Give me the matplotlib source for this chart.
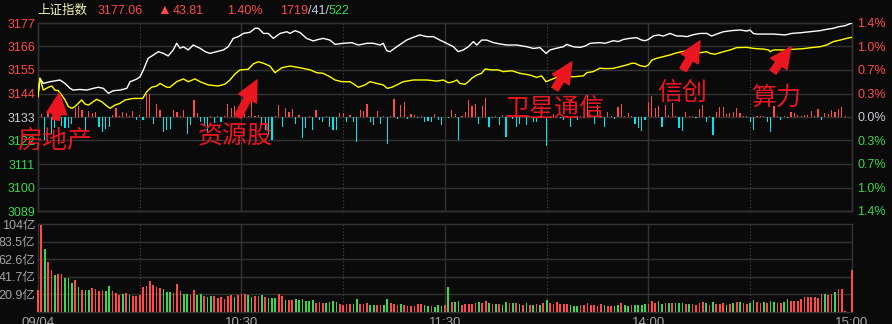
import matplotlib
matplotlib.use("Agg")
import matplotlib.pyplot as plt
import numpy as np

# ---------------- data ----------------
PREV_CLOSE = 3133.25
LAST = 3177.06
CHANGE = 43.81
PCT = "1.40%"
ADV, FLAT, DEC = "1719", "41", "522"

WHITE_T = [0, 0.6, 1.6, 3.6, 6.5, 8, 9.5, 10.4, 12.4, 14.4,
           16.3, 17.8, 19.3, 20.8, 22.2, 24.2, 26.2, 27.2, 29.1, 30.1,
           31.1, 32.5, 34, 35.5, 37, 38.4, 39.9, 40.9, 41.9, 42.9,
           44.3, 45.8, 46.8, 47.8, 49.3, 50.7, 52.7, 54.7, 56.1, 57.6,
           59.1, 60.6, 62.5, 64, 65, 66.5, 67.9, 69.4, 71.4, 73.4,
           74.3, 75.8, 77.3, 79.2, 81.2, 82.7, 84.1, 86.1, 87.6, 90,
           92.5, 94.5, 96.9, 98.9, 100.9, 101.8, 102.8, 103.8, 105.8, 107.3,
           108.7, 110.7, 112.6, 114.6, 116.6, 118.5, 120.5, 122.5, 123.9, 125.4,
           126.9, 128.4, 129.4, 130.8, 132.3, 134.3, 136.2, 138.2, 141.2, 144.1,
           146.1, 148, 149.8, 151, 152.9, 154.9, 155.9, 157.8, 159.8, 161.3,
           162.8, 165.7, 167.2, 169.6, 171.1, 172.6, 174.5, 176.5, 178, 179,
           180, 181.4, 182.9, 184.4, 186.4, 188.3, 189.8, 191.3, 193.2, 195.2,
           197.2, 198.6, 200.1, 202.1, 204.5, 207, 209, 209.9, 210.9, 211.9,
           214.9, 216.8, 220.3, 222.2, 224.7, 227.6, 230.6, 232.5, 234.5, 236,
           237.9, 240]
WHITE_V = [3142.7, 3151.3, 3148.9, 3149.7, 3150.5, 3148.9, 3146.6, 3145.8, 3146.1, 3145.8,
           3146.6, 3147.1, 3146.6, 3144.3, 3145.5, 3145.8, 3146.6, 3149.7, 3150.9, 3152.0,
           3155.2, 3160.6, 3162.1, 3163.7, 3162.9, 3161.7, 3164.5, 3167.6, 3165.3, 3166.0,
           3164.5, 3166.8, 3166.0, 3165.3, 3163.7, 3162.9, 3163.7, 3164.5, 3166.0, 3169.9,
           3170.7, 3172.2, 3172.7, 3174.6, 3174.6, 3172.2, 3172.2, 3169.9, 3172.2, 3173.0,
           3172.2, 3173.5, 3172.6, 3169.9, 3168.7, 3169.4, 3169.9, 3169.1, 3167.1, 3167.6,
           3167.9, 3166.8, 3167.6, 3167.6, 3166.8, 3167.6, 3164.2, 3163.7, 3166.0, 3167.6,
           3169.1, 3170.4, 3171.5, 3170.7, 3170.7, 3169.1, 3167.6, 3166.0, 3163.7, 3164.5,
           3166.0, 3168.4, 3166.8, 3169.1, 3169.1, 3167.9, 3167.3, 3166.8, 3166.8, 3166.0,
           3165.2, 3165.6, 3162.9, 3164.5, 3165.3, 3166.0, 3167.1, 3166.0, 3165.7, 3166.3,
           3167.6, 3167.9, 3167.6, 3168.8, 3168.4, 3169.4, 3169.9, 3170.2, 3169.1, 3168.8,
           3169.4, 3171.0, 3171.5, 3171.0, 3172.2, 3171.0, 3171.0, 3170.7, 3171.6, 3172.2,
           3172.2, 3171.0, 3171.9, 3173.0, 3173.5, 3173.8, 3173.3, 3173.8, 3172.2, 3171.9,
           3171.9, 3171.9, 3171.5, 3172.2, 3172.5, 3173.0, 3173.5, 3174.1, 3174.6, 3175.3,
           3175.8, 3177.06]

YEL_T = [0, 0.6, 1.6, 3.1, 4.1, 5, 6, 7, 8, 9,
         10, 10.9, 11.9, 12.9, 13.9, 14.9, 16.3, 17.3, 18.8, 20.3,
         21.3, 22.7, 24.2, 25.7, 28.1, 30.9, 32.1, 33.5, 35, 36,
         38, 38.9, 40.9, 42.9, 44.3, 46.3, 47.8, 50.2, 53.2, 55.2,
         56.6, 58.1, 59.6, 62, 63.5, 65, 66.5, 68.4, 69.9, 71.9,
         74.3, 77.3, 80.3, 82.2, 84.1, 86.1, 87.6, 89.6, 92, 93.5,
         94.5, 96.4, 97.9, 99.9, 101.8, 103, 104.3, 105.8, 107.7, 110.7,
         114.6, 117.6, 119.5, 121, 122.5, 123.5, 124.4, 125.9, 126.9, 127.9,
         129.4, 130.8, 131.8, 133.8, 135.7, 137.2, 139.7, 142.1, 145.1, 147,
         148.5, 149.8, 151, 152.9, 155.4, 157.8, 160.8, 161.8, 163.7, 165.7,
         167.2, 169.6, 171.6, 173.6, 175.1, 176, 177.5, 179, 180, 181,
         182.4, 184.4, 186.4, 187.8, 189.8, 191.3, 192.7, 195.2, 197.2, 198.1,
         199.6, 202.1, 204.1, 206, 209, 211, 213.9, 215.4, 215.9, 216.8,
         219.8, 222.7, 225.7, 228.1, 230.6, 232.5, 234.5, 236.5, 238.4, 240]
YEL_V = [3142.7, 3151.3, 3145.8, 3147.1, 3147.7, 3145.8, 3145.5, 3143.5, 3141.2, 3138.1,
         3137.3, 3138.1, 3139.6, 3141.2, 3139.3, 3138.8, 3140.4, 3141.5, 3140.4, 3138.4,
         3137.3, 3138.8, 3139.6, 3141.2, 3141.9, 3141.9, 3145.1, 3147.1, 3147.7, 3148.9,
         3147.1, 3147.1, 3149.7, 3151.0, 3149.7, 3151.0, 3149.7, 3148.2, 3147.7, 3148.6,
         3150.5, 3153.3, 3155.2, 3155.5, 3158.0, 3159.0, 3158.3, 3157.0, 3153.9, 3156.2,
         3157.0, 3156.2, 3155.2, 3153.9, 3153.6, 3152.0, 3150.5, 3149.7, 3149.7, 3148.2,
         3147.1, 3148.2, 3149.7, 3148.9, 3148.2, 3146.6, 3147.1, 3148.2, 3149.7, 3150.5,
         3150.5, 3150.0, 3150.5, 3149.2, 3149.7, 3150.5, 3148.9, 3148.5, 3149.7, 3151.3,
         3152.8, 3153.6, 3155.6, 3155.2, 3155.2, 3154.4, 3154.8, 3153.6, 3152.8, 3151.7,
         3152.4, 3149.7, 3150.5, 3151.7, 3152.4, 3152.0, 3152.4, 3153.9, 3154.4, 3156.0,
         3155.8, 3155.9, 3156.7, 3157.5, 3158.3, 3158.3, 3157.2, 3156.7, 3157.5, 3159.8,
         3160.6, 3161.4, 3162.2, 3162.9, 3163.7, 3164.2, 3163.4, 3163.2, 3163.7, 3162.9,
         3162.5, 3163.7, 3164.5, 3165.6, 3165.7, 3165.2, 3164.9, 3164.5, 3163.7, 3164.5,
         3164.5, 3164.8, 3165.1, 3165.6, 3166.0, 3166.8, 3168.4, 3169.1, 3169.9, 3170.4]

# advance/decline bars per minute (arbitrary units, + up / - down)
BREADTH = [0, 3, -23, 4, -17, -11, 2, -9, -11, -11,
           -7, 9, 11, 7, -13, 6, 4, 5, -10, -15,
           -12, -10, 2, 9, 1, 5, 4, 1, 6, -3,
           2, -3, 23, 23, -7, 13, 7, -15, -13, -12,
           7, 5, 1, 7, -17, -8, 17, 4, -5, -8,
           -15, 1, -6, 1, -5, 1, 13, 9, 11, 5,
           1, 3, 1, 20, 1, 2, -8, -13, -18, -23,
           1, 12, -10, 9, 5, 8, -7, 2, -21, -11,
           1, -13, 7, -3, -5, 1, -10, -13, -13, 4,
           4, -5, 2, -5, -25, 7, 6, 13, -5, -8,
           6, -7, 1, -27, 1, 18, -2, 12, 15, -2,
           3, 2, -1, 1, -5, -4, -5, 3, -3, -8,
           0, -1, 7, 3, -23, 1, 5, 17, 11, 13,
           -7, 11, 19, -10, -1, 1, -8, 2, -20, 2,
           -2, -10, -7, 1, -8, 1, -5, -5, 1, -1,
           -29, 1, 3, 1, -1, -3, 1, -10, 1, -3,
           1, -1, 22, 2, -7, 12, 1, -10, 5, 1,
           -2, 10, 13, 1, 4, 1, -7, -11, -14, -3,
           15, 21, 9, 11, -10, 12, 2, 14, 1, -11,
           -14, 5, 1, 1, -1, 8, 12, -5, 1, -18,
           5, 10, 10, 3, 4, 5, 9, 4, 1, 1,
           -5, -13, 1, 1, 1, -5, -15, 11, 1, -3,
           1, -1, 5, 4, 2, 1, 2, 2, 6, 1,
           8, -3, 4, 3, 7, 5, 8, 10, 1, 0,
           0]

# turnover per minute, 亿
VOLUME = [25.8, 103.4, 74.8, 59.3, 49.7, 43.7, 44.9, 44.9, 40.2, 40.2,
          34.2, 37.8, 29.0, 25.8, 25.8, 25.8, 27.8, 27.0, 25.1, 25.8,
          25.1, 30.6, 24.3, 21.9, 19.9, 20.7, 21.9, 19.9, 19.1, 19.1,
          19.5, 29.0, 30.6, 36.6, 31.8, 29.0, 27.8, 26.6, 23.9, 23.9,
          22.7, 33.0, 24.7, 21.1, 21.1, 19.9, 25.8, 19.9, 20.7, 18.7,
          17.9, 18.7, 18.7, 16.7, 17.9, 14.7, 18.7, 19.9, 17.9, 19.9,
          20.7, 21.1, 19.9, 17.9, 18.7, 18.7, 19.9, 17.1, 16.7, 16.7,
          16.7, 20.7, 18.7, 13.9, 13.9, 13.9, 15.1, 13.9,
          15.1, 13.1, 13.1, 13.9, 9.9, 11.5, 10.7, 9.9, 11.5, 12.7,
          11.5, 8.7, 8.0, 9.1, 9.1, 9.1, 15.1, 9.1, 9.1, 10.3,
          8.0, 8.0, 8.0, 8.0, 8.0, 15.1, 9.9, 9.1, 8.0, 9.1,
          8.0, 6.8, 6.8, 6.8, 9.1, 9.1, 7.6, 6.8, 6.8, 6.0,
          8.0, 6.8, 8.0, 29.0, 11.9, 11.1, 12.7, 8.0, 9.1, 9.1,
          9.1, 10.7, 11.5, 10.7, 12.7, 9.9, 9.1, 9.1, 9.1, 8.0,
          11.5, 10.7, 9.9, 10.7, 8.7, 8.0, 9.9, 8.0, 8.0, 9.1,
          8.0, 9.9, 13.9, 9.9, 9.1, 11.5, 9.1, 9.1, 9.1, 8.0,
          6.8, 6.8, 8.0, 8.0, 10.3, 8.0, 8.0, 6.8,
          9.1, 8.0, 6.8, 6.8, 6.8, 8.0, 9.9, 8.0, 6.8, 8.0,
          8.0, 8.0, 8.0, 9.1, 9.1, 12.7, 9.9, 12.7, 9.1, 9.9,
          9.9, 9.9, 9.9, 9.9, 9.9, 9.1, 9.1, 9.1, 7.6, 9.9,
          11.5, 9.9, 8.0, 11.5, 9.1, 9.1, 9.9, 8.0, 9.1, 9.9,
          11.5, 11.5, 9.9, 9.1, 9.9, 13.9, 11.5, 9.9, 11.5, 9.9,
          12.7, 11.5, 9.9, 9.9, 11.5, 15.1, 12.7, 12.7, 12.7, 14.7,
          17.5, 17.5, 17.5, 17.5, 16.3, 20.7, 20.7, 19.9, 20.7, 23.1,
          27.0, 27.0, 0.8, 0.0, 49.7]
VOL_DIR = ("rrgrrgrrgg" "grgrggrrrr" "ggrrrgrgrr" "rrrrrrrggg" "rrrggrrggr"
           "ggrrrrrrgr" "rrggrrgrgg" "grrgrrgg"
           "ggggrrrggg" "grrrrggrrr" "ggrrggrrrg" "rrrrrrggrg" "ggrgrggrrr"
           "rrgrrgrgrg" "grgrgrgrgr" "grgrrrrrrg" "ggrrrrrr"
           "rgrrggrggr" "ggggrrrggr" "grgggrgrrr" "rgrgrrrgrg" "rgrrggrrgr"
           "ggrrggrrrr" "rrrrrrgrrg" "rrrrr")

TIME_TICKS = [0, 60, 120, 180, 240]
TIME_LABELS = ["09/04", "10:30", "11:30", "14:00", "15:00"]
VOL_TICK_LABELS = ["20.9亿", "41.7亿", "62.6亿", "83.5亿", "104亿"]
VOL_MAX = 104.35

NOTES = ["房地产", "资源股", "卫星通信", "信创", "算力"]
NOTE_TEXT_POS = [(5, 3122.1), (58.1, 3123.9), (152.4, 3137.0), (189.9, 3144.4), (217.6, 3142.1)]
NOTE_ARROW_FROM = [(5.3, 3131.9), (59.0, 3133.3), (152.4, 3146.3), (190.2, 3155.2), (216.7, 3154.2)]
NOTE_ARROW_TO = [(6.3, 3144.4), (64.6, 3150.5), (157.4, 3158.9), (195.2, 3168.7), (222.0, 3165.9)]

# ---------------- style ----------------
BG = "#0a0a0a"
GRID = "#333333"
RED = "#ff4a4a"
GREEN = "#3ad64e"
CYAN = "#00e6ef"
NOTE_RED = "#ea1620"
LABEL_GREY = "#a4a4a4"
plt.rcParams["font.family"] = ["Liberation Sans", "Noto Sans CJK SC", "DejaVu Sans"]

W, H, DPI = 892, 324, 100
fig = plt.figure(figsize=(W / DPI, H / DPI), dpi=DPI)
fig.patch.set_facecolor(BG)


def rect(x0, y0, x1, y1):
    return [x0 / W, 1 - y1 / H, (x1 - x0) / W, (y1 - y0) / H]


MAIN = rect(37.9, 23, 852, 211)
VOLR = rect(37.9, 224.3, 852, 311.7)

ax_b = fig.add_axes(MAIN)
ax = fig.add_axes(MAIN)
ax_v = fig.add_axes(VOLR)
ax_b.set_zorder(0)
ax.set_zorder(2)
ax.patch.set_visible(False)
ax_b.set_facecolor(BG)
ax_v.set_facecolor(BG)

XMIN, XMAX = 0, 240
for a in (ax_b, ax, ax_v):
    a.set_xlim(XMIN, XMAX)
    for s in a.spines.values():
        s.set_color(GRID)
        s.set_linewidth(1.0)
    a.tick_params(length=0)

# grid: verticals
for m in [30, 60, 90, 120, 150, 180, 210]:
    solid = (m % 60 == 0)
    for a in (ax_b, ax_v):
        a.axvline(m, color=GRID if solid else "#4a4a4a", lw=1.0 if solid else 0.8,
                  ls="-" if solid else (0, (1, 2)), zorder=0)

# breadth bars
ax_b.set_ylim(-94, 94)
minutes = np.arange(len(BREADTH))
br = np.array(BREADTH, dtype=float)
ax_b.bar(minutes, br, width=0.35, color=np.where(br >= 0, RED, CYAN), zorder=2, linewidth=0)
ax_b.set_xticks([])
ax_b.set_yticks([])

# price axis
ax.set_ylim(PREV_CLOSE - CHANGE, PREV_CLOSE + CHANGE)
levels = [PREV_CLOSE + CHANGE * k / 4 for k in range(-4, 5)]
for lv in levels[1:-1]:
    ax_b.axhline((lv - PREV_CLOSE) / CHANGE * 94, color=GRID, lw=1.0, zorder=0)
ax.plot(WHITE_T, WHITE_V, color="#ffffff", lw=1.0, zorder=3)
ax.plot(YEL_T, YEL_V, color="#ffff00", lw=1.0, zorder=3)
ax.set_xticks([])
ax.set_yticks(levels)
ax.set_yticklabels([f"{lv:.0f}" for lv in levels], fontsize=9)
for lab, lv in zip(ax.get_yticklabels(), levels):
    lab.set_color(RED if lv > PREV_CLOSE + 1 else (GREEN if lv < PREV_CLOSE - 1 else "#c8ccd4"))
ax.tick_params(axis="y", pad=2)

ax_r = ax.twinx()
ax_r.set_ylim(ax.get_ylim())
ax_r.set_yticks(levels)
ax_r.set_yticklabels([f"{abs(lv - PREV_CLOSE) / PREV_CLOSE * 100:.1f}%" for lv in levels], fontsize=9)
for lab, lv in zip(ax_r.get_yticklabels(), levels):
    lab.set_color(RED if lv > PREV_CLOSE + 1 else (GREEN if lv < PREV_CLOSE - 1 else "#c8ccd4"))
ax_r.tick_params(length=0, pad=4)
for s in ax_r.spines.values():
    s.set_visible(False)

# volume
vols = np.array(VOLUME)
vcol = [RED if c == "r" else GREEN for c in VOL_DIR]
vbars = ax_v.bar(np.arange(len(vols)), vols, width=0.5, color=vcol, linewidth=0, zorder=3)
for b in vbars:
    b.set_clip_on(False)
ax_v.set_ylim(0, VOL_MAX)
vt = [VOL_MAX * k / 5 for k in range(1, 6)]
for v in vt[:-1]:
    ax_v.axhline(v, color=GRID, lw=1.0, zorder=0)
ax_v.set_yticks(vt)
ax_v.set_yticklabels(VOL_TICK_LABELS, fontsize=9, color=LABEL_GREY)
ax_v.tick_params(axis="y", pad=2)
ax_v.set_xticks(TIME_TICKS)
ax_v.set_xticklabels(TIME_LABELS, fontsize=9.5, color=LABEL_GREY)
ax_v.tick_params(axis="x", pad=4)

# annotations
for txt, tp, a0, a1 in zip(NOTES, NOTE_TEXT_POS, NOTE_ARROW_FROM, NOTE_ARROW_TO):
    ax.text(tp[0], tp[1], txt, color=NOTE_RED, fontsize=18, ha="center", va="center",
            family=["Noto Sans CJK SC"], clip_on=False, zorder=6)
    ax.annotate("", xy=a1, xytext=a0,
                arrowprops=dict(arrowstyle="simple,head_length=1.15,head_width=1.1,tail_width=0.4",
                                color=NOTE_RED, shrinkA=0, shrinkB=0, mutation_scale=13),
                zorder=6, annotation_clip=False)

# header
def ftext(xpx, s, color, size=9):
    fig.text(xpx / W, 1 - 10.5 / H, s, color=color, fontsize=size, ha="left", va="center")

ftext(37, "上证指数", "#f4f4b4")
ftext(98, f"{LAST:.2f}", RED)
ftext(157, "▲", RED, 10)
ftext(173, f"{CHANGE:.2f}", RED)
ftext(227, PCT, RED)
ftext(280, ADV, RED)
ftext(308, "/" + FLAT + "/", "#c8cfe0")
ftext(329, DEC, GREEN)

fig.savefig("out.png", dpi=DPI, facecolor=BG)
